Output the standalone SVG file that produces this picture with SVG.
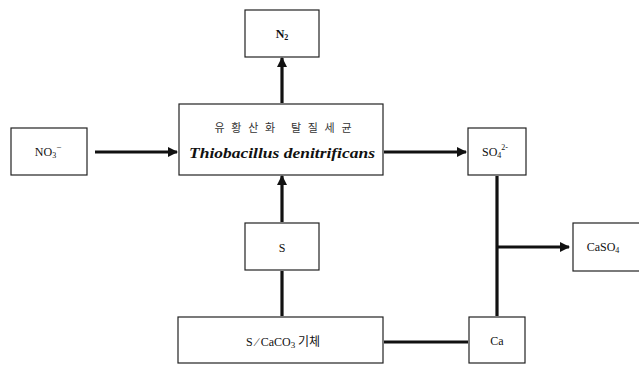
<svg xmlns="http://www.w3.org/2000/svg" width="639" height="365" viewBox="0 0 639 365">
  <style>
    .box { fill: #fff; stroke: #222; stroke-width: 1.2; }
    .lbl { font-family: "Liberation Serif", "Noto Sans CJK KR", serif; font-size: 12px; fill: #111; text-anchor: middle; }
    .ko { font-family: "Noto Sans CJK KR", sans-serif; font-size: 11px; fill: #333; text-anchor: middle; }
    .sci { font-family: "Liberation Serif", serif; font-size: 15px; font-style: italic; font-weight: bold; fill: #111; text-anchor: middle; }
    .wire { stroke: #111; stroke-width: 3.2; fill: none; }
  </style>
  <defs>
    <marker id="head" viewBox="0 0 10 10" refX="9" refY="5" markerWidth="3.2" markerHeight="3.2" orient="auto" markerUnits="strokeWidth">
      <path d="M0,0 L10,5 L0,10 Z" fill="#111"/>
    </marker>
  </defs>
  <rect width="639" height="365" fill="#fff"/>

  <g id="connectors">
    <line class="wire" x1="95" y1="152" x2="177" y2="152" marker-end="url(#head)"/>
    <line class="wire" x1="384" y1="152" x2="466" y2="152" marker-end="url(#head)"/>
    <line class="wire" x1="282" y1="103" x2="282" y2="58" marker-end="url(#head)"/>
    <line class="wire" x1="282" y1="222" x2="282" y2="176" marker-end="url(#head)"/>
    <line class="wire" x1="282" y1="316" x2="282" y2="271"/>
    <line class="wire" x1="497" y1="176" x2="497" y2="316"/>
    <line class="wire" x1="497" y1="247" x2="569" y2="247" marker-end="url(#head)"/>
    <line class="wire" x1="384" y1="342" x2="468" y2="342"/>
  </g>

  <g id="n2">
    <rect class="box" x="245" y="10" width="74" height="47"/>
    <text class="lbl" x="282" y="38" font-size="13" font-weight="bold">N<tspan font-size="8" dy="2">2</tspan></text>
  </g>

  <g id="bacteria">
    <rect class="box" x="179" y="104" width="204" height="71"/>
    <text class="ko" x="283" y="132" textLength="137" lengthAdjust="spacing">유황산화 탈질세균</text>
    <text class="sci" x="282" y="158" textLength="186" lengthAdjust="spacingAndGlyphs">Thiobacillus denitrificans</text>
  </g>

  <g id="no3">
    <rect class="box" x="11" y="128" width="76" height="47"/>
    <text class="lbl" x="48" y="156">NO<tspan font-size="8" dy="2">3</tspan><tspan font-size="9" dy="-8">−</tspan></text>
  </g>

  <g id="so4">
    <rect class="box" x="468" y="128" width="58" height="47"/>
    <text class="lbl" x="495" y="156">SO<tspan font-size="8" dy="2">4</tspan><tspan font-size="8" dy="-8">2-</tspan></text>
  </g>

  <g id="caso4">
    <rect class="box" x="573" y="223" width="70" height="48"/>
    <text class="lbl" x="603" y="251">CaSO<tspan font-size="8" dy="2">4</tspan></text>
  </g>

  <g id="sulfur">
    <rect class="box" x="245" y="223" width="74" height="47"/>
    <text class="lbl" x="282" y="252" font-size="14">S</text>
  </g>

  <g id="carrier">
    <rect class="box" x="178" y="317" width="205" height="46"/>
    <text class="lbl" x="283" y="346" font-size="13">S ∕ CaCO<tspan font-size="9" dy="2">3</tspan><tspan dy="-2" font-family="Noto Sans CJK KR, sans-serif" font-size="12"> 기체</tspan></text>
  </g>

  <g id="ca">
    <rect class="box" x="469" y="317" width="56" height="46"/>
    <text class="lbl" x="497" y="345">Ca</text>
  </g>
</svg>
